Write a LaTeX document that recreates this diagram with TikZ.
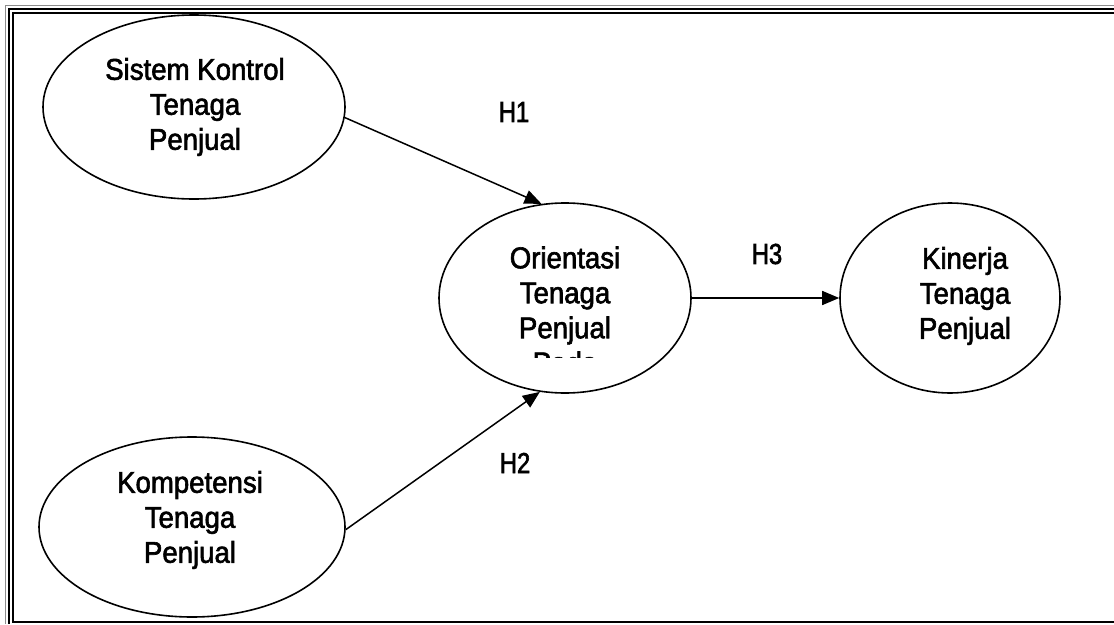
\documentclass[tikz,border=0pt]{standalone}
\usepackage{fontspec}
\setmainfont{Liberation Sans}[FakeStretch=0.92,FakeBold=2]
\newfontfamily\hypfont{Liberation Sans}[FakeStretch=0.82,FakeBold=2]
\usetikzlibrary{shapes.geometric,arrows.meta}

\begin{document}
\begin{tikzpicture}[x=1pt,y=-1pt,
  construct/.style={draw,ellipse,line width=1.6pt,inner sep=0pt},
  caption/.style={align=center,font=\fontsize{30}{35}\selectfont,inner sep=0pt},
  hyp/.style={font=\hypfont\fontsize{29}{30}\selectfont,inner sep=0pt},
  link/.style={line width=1.5pt,-{Triangle[length=17pt,width=14pt]}}]
\useasboundingbox (0,0) rectangle (1114,624);

% page frame
\draw[black!45,line width=1pt] (5.5,624) -- (5.5,5.5) -- (1114,5.5);
\draw[line width=2pt] (8.5,624) -- (8.5,8.5) -- (1114,8.5);
\draw[line width=2pt] (1114,622) -- (12.5,622) -- (12.5,12.5) -- (1114,12.5);

% constructs
\node[construct,minimum width=302pt,minimum height=184pt] (sk) at (194,107) {};
\node[construct,minimum width=306pt,minimum height=180pt] (kp) at (192,527) {};
\node[construct,minimum width=252pt,minimum height=190pt] (or) at (565,298) {};
\node[construct,minimum width=220pt,minimum height=190pt] (kn) at (950,298) {};

\node[caption] (sktext) at (195,107) {Sistem Kontrol\\Tenaga\\Penjual};
\node[caption] (kptext) at (190,520) {Kompetensi\\Tenaga\\Penjual};
\node[caption] (kntext) at (965,296) {Kinerja\\Tenaga\\Penjual};
\begin{scope}
  \clip (420,205) rectangle (710,357);
  \node[caption] (ortext) at (565,310) {Orientasi\\Tenaga\\Penjual\\Pada};
\end{scope}

% hypotheses
\draw[link] (sk.-4) -- (or.104);
\draw[link] (kp.-1) -- (or.-105);
\draw[link] (or.east) -- (kn.west);

\node[hyp] (h1) at (514,112) {H1};
\node[hyp] (h2) at (515,463) {H2};
\node[hyp] (h3) at (767,254) {H3};
\end{tikzpicture}
\end{document}
